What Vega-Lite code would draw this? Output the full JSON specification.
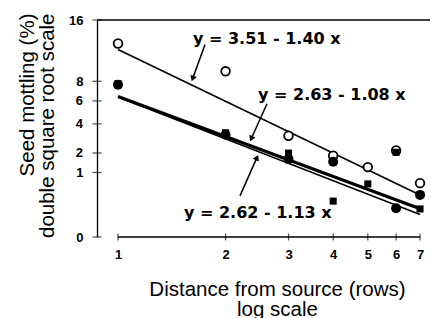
{
  "$schema": "https://vega.github.io/schema/vega-lite/v6.json",
  "width": 333,
  "height": 217,
  "autosize": {"type": "none"},
  "padding": {"left": 97, "top": 20, "right": 1, "bottom": 81},
  "background": "white",
  "config": {
    "view": {"stroke": null},
    "font": "Liberation Sans",
    "axis": {
      "labelOverlap": false,
      "labelFlush": false,
      "labelBound": false,
      "grid": false,
      "ticks": false,
      "tickSize": 0,
      "labelFont": "Liberation Sans",
      "labelFontWeight": "bold",
      "labelFontSize": 13,
      "labelColor": "black",
      "titleFont": "Liberation Sans",
      "titleFontWeight": "normal",
      "titleColor": "black"
    },
    "axisY": {
      "domain": true,
      "domainColor": "black",
      "domainWidth": 1.3,
      "labelPadding": 14,
      "titleFontSize": 20.5,
      "titleAngle": -90,
      "titleAlign": "right",
      "titleBaseline": "alphabetic",
      "titleX": -64,
      "titleY": -7,
      "titleLineHeight": 20
    },
    "axisX": {
      "domain": false,
      "labelPadding": 11,
      "titleFontSize": 20.5,
      "titleAlign": "center",
      "titleBaseline": "alphabetic",
      "titleX": 180,
      "titleY": 58,
      "titleLineHeight": 20
    }
  },
  "datasets": {
    "points": [
      {"group": "open", "distance": 1, "dsr": 3.621},
      {"group": "open", "distance": 2, "dsr": 3.101},
      {"group": "open", "distance": 3, "dsr": 1.895},
      {"group": "open", "distance": 4, "dsr": 1.52},
      {"group": "open", "distance": 5, "dsr": 1.308},
      {"group": "open", "distance": 6, "dsr": 1.62},
      {"group": "open", "distance": 7, "dsr": 1.008},
      {"group": "filled", "distance": 1, "dsr": 2.852},
      {"group": "filled", "distance": 2, "dsr": 1.914},
      {"group": "filled", "distance": 3, "dsr": 1.458},
      {"group": "filled", "distance": 4, "dsr": 1.407},
      {"group": "filled", "distance": 6, "dsr": 0.538},
      {"group": "filled", "distance": 7, "dsr": 0.788},
      {"group": "square", "distance": 1, "dsr": 2.87},
      {"group": "square", "distance": 2, "dsr": 1.951},
      {"group": "square", "distance": 3, "dsr": 1.57},
      {"group": "square", "distance": 4, "dsr": 0.672},
      {"group": "square", "distance": 5, "dsr": 0.994},
      {"group": "square", "distance": 6, "dsr": 1.585},
      {"group": "square", "distance": 7, "dsr": 0.525}
    ],
    "fits": [
      {"eq": "a", "distance": 1, "dsr": 3.51},
      {"eq": "a", "distance": 7, "dsr": 0.786},
      {"eq": "b", "distance": 1, "dsr": 2.63},
      {"eq": "b", "distance": 7, "dsr": 0.529},
      {"eq": "c", "distance": 1, "dsr": 2.62},
      {"eq": "c", "distance": 7, "dsr": 0.421}
    ],
    "labels": [
      {"text": "y = 3.51 - 1.40 x", "distance": 1.621, "dsr": 3.715},
      {"text": "y = 2.63 - 1.08 x", "distance": 2.465, "dsr": 2.649},
      {"text": "y = 2.62 - 1.13 x", "distance": 1.53, "dsr": 0.445}
    ],
    "arrows": [
      {"distance": 1.752, "dsr": 3.602, "distance2": 1.621, "dsr2": 2.983, "angle": 199},
      {"distance": 2.612, "dsr": 2.495, "distance2": 2.366, "dsr2": 1.857, "angle": 204.5},
      {"distance": 2.194, "dsr": 0.769, "distance2": 2.442, "dsr2": 1.471, "angle": 24.6}
    ],
    "yticks": [
      {"distance": 0.8735, "dsr": 0},
      {"distance": 0.8735, "dsr": 1.2071},
      {"distance": 0.8735, "dsr": 1.5731},
      {"distance": 0.8735, "dsr": 2.118},
      {"distance": 0.8735, "dsr": 2.5476},
      {"distance": 0.8735, "dsr": 2.9142},
      {"distance": 0.8735, "dsr": 4.0616}
    ],
    "ylabels": [
      {"pos": 0.8735, "level": 1.5731, "label": "2"},
      {"pos": 0.8735, "level": 2.5476, "label": "6"}
    ],
    "ylabel4": [
      {"pos": 0.8735, "level": 2.118, "label": "4"}
    ],
    "xticks": [
      {"distance": 1, "dsr": 0},
      {"distance": 2, "dsr": 0},
      {"distance": 3, "dsr": 0},
      {"distance": 4, "dsr": 0},
      {"distance": 5, "dsr": 0},
      {"distance": 6, "dsr": 0},
      {"distance": 7, "dsr": 0}
    ],
    "xline": [{"distance": 1, "distance2": 7, "dsr": 0}],
    "topline": [{"dsr": 4.0616}]
  },
  "layer": [
    {
      "data": {"name": "topline"},
      "mark": {"type": "rule", "color": "black", "strokeWidth": 1.3},
      "encoding": {
        "y": {
          "field": "dsr",
          "type": "quantitative",
          "scale": {"type": "linear", "domain": [0, 4.0616], "nice": false, "zero": false},
          "axis": {
            "values": [0, 1.2071, 2.9142, 4.0616],
            "labelExpr": "datum.value < 0.6 ? '0' : datum.value < 1.4 ? '1' : datum.value < 3.5 ? '8' : '16'",
            "labelOverlap": false,
            "title": ["Seed mottling (%)", "double square root scale"]
          }
        }
      }
    },
    {
      "data": {"name": "xline"},
      "mark": {"type": "rule", "color": "black", "strokeWidth": 1.3},
      "encoding": {
        "x": {
          "field": "distance",
          "type": "quantitative",
          "scale": {"type": "log", "domain": [0.8735, 7.464], "nice": false},
          "axis": {
            "values": [1, 2, 3, 4, 5, 6, 7],
            "format": "d",
            "labelOverlap": false,
            "title": ["Distance from source (rows)", "log scale"]
          }
        },
        "x2": {"field": "distance2"},
        "y": {"field": "dsr", "type": "quantitative"}
      }
    },
    {
      "data": {"name": "yticks"},
      "mark": {"type": "tick", "orient": "horizontal", "color": "black", "size": 9, "thickness": 1.2},
      "encoding": {
        "x": {"field": "distance", "type": "quantitative"},
        "y": {"field": "dsr", "type": "quantitative"}
      }
    },
    {
      "data": {"name": "ylabels"},
      "mark": {"type": "text", "align": "right", "baseline": "middle", "dx": -14, "font": "Liberation Sans", "fontWeight": "bold", "fontSize": 13, "color": "black"},
      "encoding": {
        "x": {"field": "pos", "type": "quantitative"},
        "y": {"field": "level", "type": "quantitative"},
        "text": {"field": "label", "type": "nominal"}
      }
    },
    {
      "data": {"name": "ylabel4"},
      "mark": {"type": "text", "align": "right", "baseline": "top", "dx": -14, "dy": -6, "font": "Liberation Sans", "fontWeight": "bold", "fontSize": 13, "color": "#000000", "opacity": 1},
      "encoding": {
        "x": {"field": "pos", "type": "quantitative"},
        "y": {"field": "level", "type": "quantitative"},
        "text": {"field": "label", "type": "nominal"}
      }
    },
    {
      "data": {"name": "xticks"},
      "mark": {"type": "tick", "orient": "vertical", "color": "black", "size": 7, "thickness": 1.2},
      "encoding": {
        "x": {"field": "distance", "type": "quantitative"},
        "y": {"field": "dsr", "type": "quantitative"}
      }
    },
    {
      "data": {"name": "fits"},
      "transform": [{"filter": "datum.eq == 'a'"}],
      "mark": {"type": "line", "color": "black", "strokeWidth": 1.6},
      "encoding": {
        "x": {"field": "distance", "type": "quantitative"},
        "y": {"field": "dsr", "type": "quantitative"}
      }
    },
    {
      "data": {"name": "fits"},
      "transform": [{"filter": "datum.eq == 'c'"}],
      "mark": {"type": "line", "color": "black", "strokeWidth": 1.6},
      "encoding": {
        "x": {"field": "distance", "type": "quantitative"},
        "y": {"field": "dsr", "type": "quantitative"}
      }
    },
    {
      "data": {"name": "fits"},
      "transform": [{"filter": "datum.eq == 'b'"}],
      "mark": {"type": "line", "color": "black", "strokeWidth": 3.2},
      "encoding": {
        "x": {"field": "distance", "type": "quantitative"},
        "y": {"field": "dsr", "type": "quantitative"}
      }
    },
    {
      "data": {"name": "arrows"},
      "mark": {"type": "rule", "color": "black", "strokeWidth": 1.5},
      "encoding": {
        "x": {"field": "distance", "type": "quantitative"},
        "y": {"field": "dsr", "type": "quantitative"},
        "x2": {"field": "distance2"},
        "y2": {"field": "dsr2"}
      }
    },
    {
      "data": {"name": "arrows"},
      "mark": {"type": "point", "shape": "triangle", "filled": true, "color": "black", "size": 45, "opacity": 1},
      "encoding": {
        "x": {"field": "distance2", "type": "quantitative"},
        "y": {"field": "dsr2", "type": "quantitative"},
        "angle": {"field": "angle", "type": "quantitative", "scale": null}
      }
    },
    {
      "data": {"name": "points"},
      "transform": [{"filter": "datum.group == 'open'"}],
      "mark": {"type": "point", "shape": "circle", "filled": false, "fill": "white", "stroke": "black", "strokeWidth": 1.8, "size": 75, "opacity": 1},
      "encoding": {
        "x": {"field": "distance", "type": "quantitative"},
        "y": {"field": "dsr", "type": "quantitative"}
      }
    },
    {
      "data": {"name": "points"},
      "transform": [{"filter": "datum.group == 'filled'"}],
      "mark": {"type": "point", "shape": "circle", "filled": true, "color": "black", "size": 100, "opacity": 1},
      "encoding": {
        "x": {"field": "distance", "type": "quantitative"},
        "y": {"field": "dsr", "type": "quantitative"}
      }
    },
    {
      "data": {"name": "points"},
      "transform": [{"filter": "datum.group == 'square'"}],
      "mark": {"type": "point", "shape": "square", "filled": true, "color": "black", "size": 50, "opacity": 1},
      "encoding": {
        "x": {"field": "distance", "type": "quantitative"},
        "y": {"field": "dsr", "type": "quantitative"}
      }
    },
    {
      "data": {"name": "labels"},
      "mark": {"type": "text", "align": "left", "baseline": "middle", "font": "DejaVu Sans", "fontWeight": "bold", "fontSize": 16, "color": "black"},
      "encoding": {
        "x": {"field": "distance", "type": "quantitative"},
        "y": {"field": "dsr", "type": "quantitative"},
        "text": {"field": "text"}
      }
    }
  ]
}
